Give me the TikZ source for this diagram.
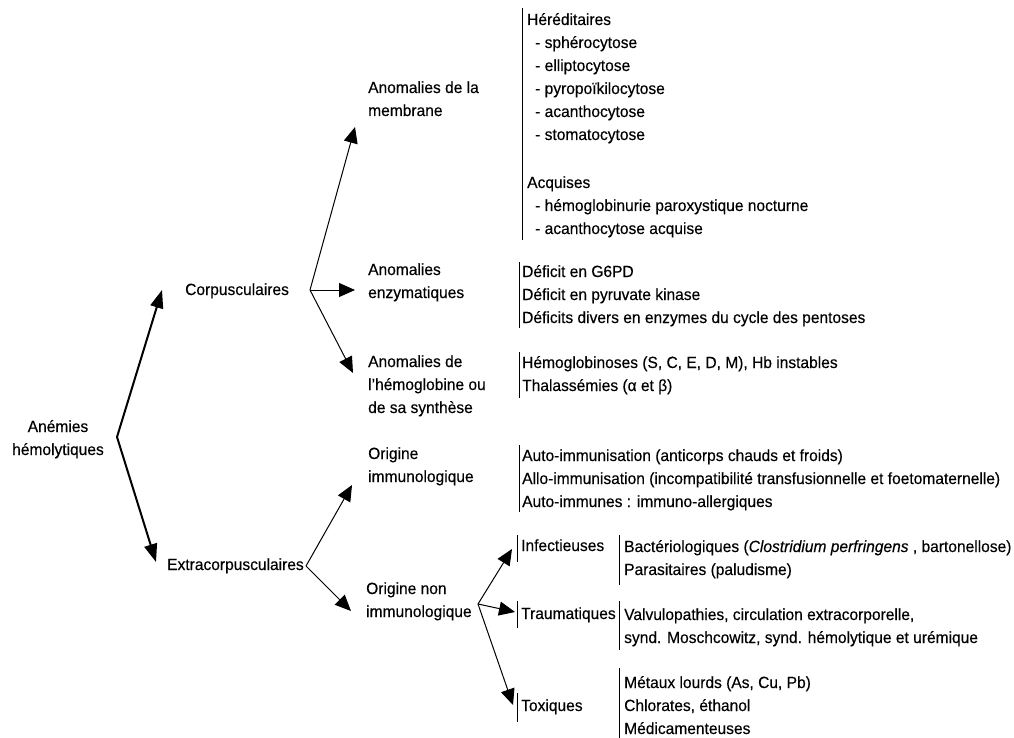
\documentclass[tikz,border=0pt]{standalone}
\usepackage{fontspec}
\setmainfont{Liberation Sans}[FakeStretch=0.96,FakeBold=0.3]
\usetikzlibrary{arrows.meta}
\begin{document}
\begin{tikzpicture}[x=1pt,y=-1pt,
  txt/.style={anchor=base west, inner sep=0pt, font=\fontsize{16.2}{23}\selectfont},
  ctxt/.style={anchor=base, inner sep=0pt, font=\fontsize{16.2}{23}\selectfont},
  bar/.style={line width=1pt},
  arr/.style={line width=1pt, -{Triangle[length=16pt,width=14pt]}},
  mainarr/.style={line width=2pt, -{Triangle[length=18pt,width=13pt]}}]
\useasboundingbox (0,0) rectangle (1014,738);

% root
\node[ctxt] (an1) at (58,432) {Anémies};
\node[ctxt] (an2) at (58,455) {hémolytiques};
\coordinate (bA) at (117,437);

% level 1
\node[txt] (corp) at (185,295) {Corpusculaires};
\node[txt] (extra) at (167,570) {Extracorpusculaires};
\coordinate (tC) at (162,290);
\coordinate (tE) at (156,562);
\draw[mainarr] (bA) -- (tC);
\draw[mainarr] (bA) -- (tE);

% level 2 (corpusculaires)
\coordinate (bC) at (310,290);
\node[txt] (mem1) at (368,93) {Anomalies de la};
\node[txt] (mem2) at (368,116) {membrane};
\node[txt] (enz1) at (368,275) {Anomalies};
\node[txt] (enz2) at (368,298) {enzymatiques};
\node[txt] (hb1) at (368,367) {Anomalies de};
\node[txt] (hb2) at (368,390) {l'hémoglobine ou};
\node[txt] (hb3) at (368,413) {de sa synthèse};
\coordinate (tMem) at (355,127);
\coordinate (tEnz) at (355,290);
\coordinate (tHb) at (353,373);
\draw[arr] (bC) -- (tMem);
\draw[arr] (bC) -- (tEnz);
\draw[arr] (bC) -- (tHb);

% level 2 (extracorpusculaires)
\coordinate (bE) at (306,566);
\node[txt] (im1) at (368,459) {Origine};
\node[txt] (im2) at (368,482) {immunologique};
\node[txt] (ni1) at (366,594) {Origine non};
\node[txt] (ni2) at (366,617) {immunologique};
\coordinate (tIm) at (352,485);
\coordinate (tNi) at (351,611);
\draw[arr] (bE) -- (tIm);
\draw[arr] (bE) -- (tNi);

% level 3 (non immunologique)
\coordinate (bN) at (478,604);
\node[txt] (inf) at (521,551) {Infectieuses};
\node[txt] (tra) at (521,619) {Traumatiques};
\node[txt] (tox) at (521,711) {Toxiques};
\coordinate (tInf) at (512,549);
\coordinate (tTra) at (515,612);
\coordinate (tTox) at (513,705);
\draw[arr] (bN) -- (tInf);
\draw[arr] (bN) -- (tTra);
\draw[arr] (bN) -- (tTox);
\coordinate (infA) at (517,535); \coordinate (infB) at (517,562);
\coordinate (traA) at (517,601); \coordinate (traB) at (517,628);
\coordinate (toxA) at (517,693); \coordinate (toxB) at (517,722);
\draw[bar] (infA) -- (infB);
\draw[bar] (traA) -- (traB);
\draw[bar] (toxA) -- (toxB);

% membrane details
\coordinate (memA) at (522,8); \coordinate (memB) at (522,240);
\draw[bar] (memA) -- (memB);
\node[txt] (h0) at (527,25) {Héréditaires};
\node[txt] (h1) at (535,48) {- sphérocytose};
\node[txt] (h2) at (535,71) {- elliptocytose};
\node[txt] (h3) at (535,94) {- pyropoïkilocytose};
\node[txt] (h4) at (535,117) {- acanthocytose};
\node[txt] (h5) at (535,140) {- stomatocytose};
\node[txt] (a0) at (527,188) {Acquises};
\node[txt] (a1) at (535,211) {- hémoglobinurie paroxystique nocturne};
\node[txt] (a2) at (535,234) {- acanthocytose acquise};

% enzymatiques details
\coordinate (enzA) at (519,262); \coordinate (enzB) at (519,328);
\draw[bar] (enzA) -- (enzB);
\node[txt] (e1) at (522,277) {Déficit en G6PD};
\node[txt] (e2) at (522,300) {Déficit en pyruvate kinase};
\node[txt] (e3) at (522,323) {Déficits divers en enzymes du cycle des pentoses};

% hemoglobine details
\coordinate (hbA) at (519,352); \coordinate (hbB) at (519,398);
\draw[bar] (hbA) -- (hbB);
\node[txt] (g1) at (522,368) {Hémoglobinoses (S, C, E, D, M), Hb instables};
\node[txt] (g2) at (522,391) {Thalassémies (α et β)};

% immunologique details
\coordinate (imA) at (519,445); \coordinate (imB) at (519,512);
\draw[bar] (imA) -- (imB);
\node[txt] (i1) at (522,461) {Auto-immunisation (anticorps chauds et froids)};
\node[txt] (i2) at (522,484) {Allo-immunisation (incompatibilité transfusionnelle et foetomaternelle)};
\node[txt] (i3) at (522,507) {Auto-immunes : immuno-allergiques};

% infectieuses details
\coordinate (bacA) at (619,535); \coordinate (bacB) at (619,585);
\draw[bar] (bacA) -- (bacB);
\node[txt] (b1) at (624,552) {Bactériologiques (\textit{Clostridium perfringens} , bartonellose)};
\node[txt] (b2) at (624,575) {Parasitaires (paludisme)};

% traumatiques details
\coordinate (valA) at (619,601); \coordinate (valB) at (619,650);
\draw[bar] (valA) -- (valB);
\node[txt] (v1) at (624,620) {Valvulopathies, circulation extracorporelle,};
\node[txt] (v2) at (624,643) {synd. Moschcowitz, synd. hémolytique et urémique};

% toxiques details
\coordinate (metA) at (619,668); \coordinate (metB) at (619,738);
\draw[bar] (metA) -- (metB);
\node[txt] (m1) at (624,688) {Métaux lourds (As, Cu, Pb)};
\node[txt] (m2) at (624,711) {Chlorates, éthanol};
\node[txt] (m3) at (624,734) {Médicamenteuses};
\end{tikzpicture}
\end{document}
